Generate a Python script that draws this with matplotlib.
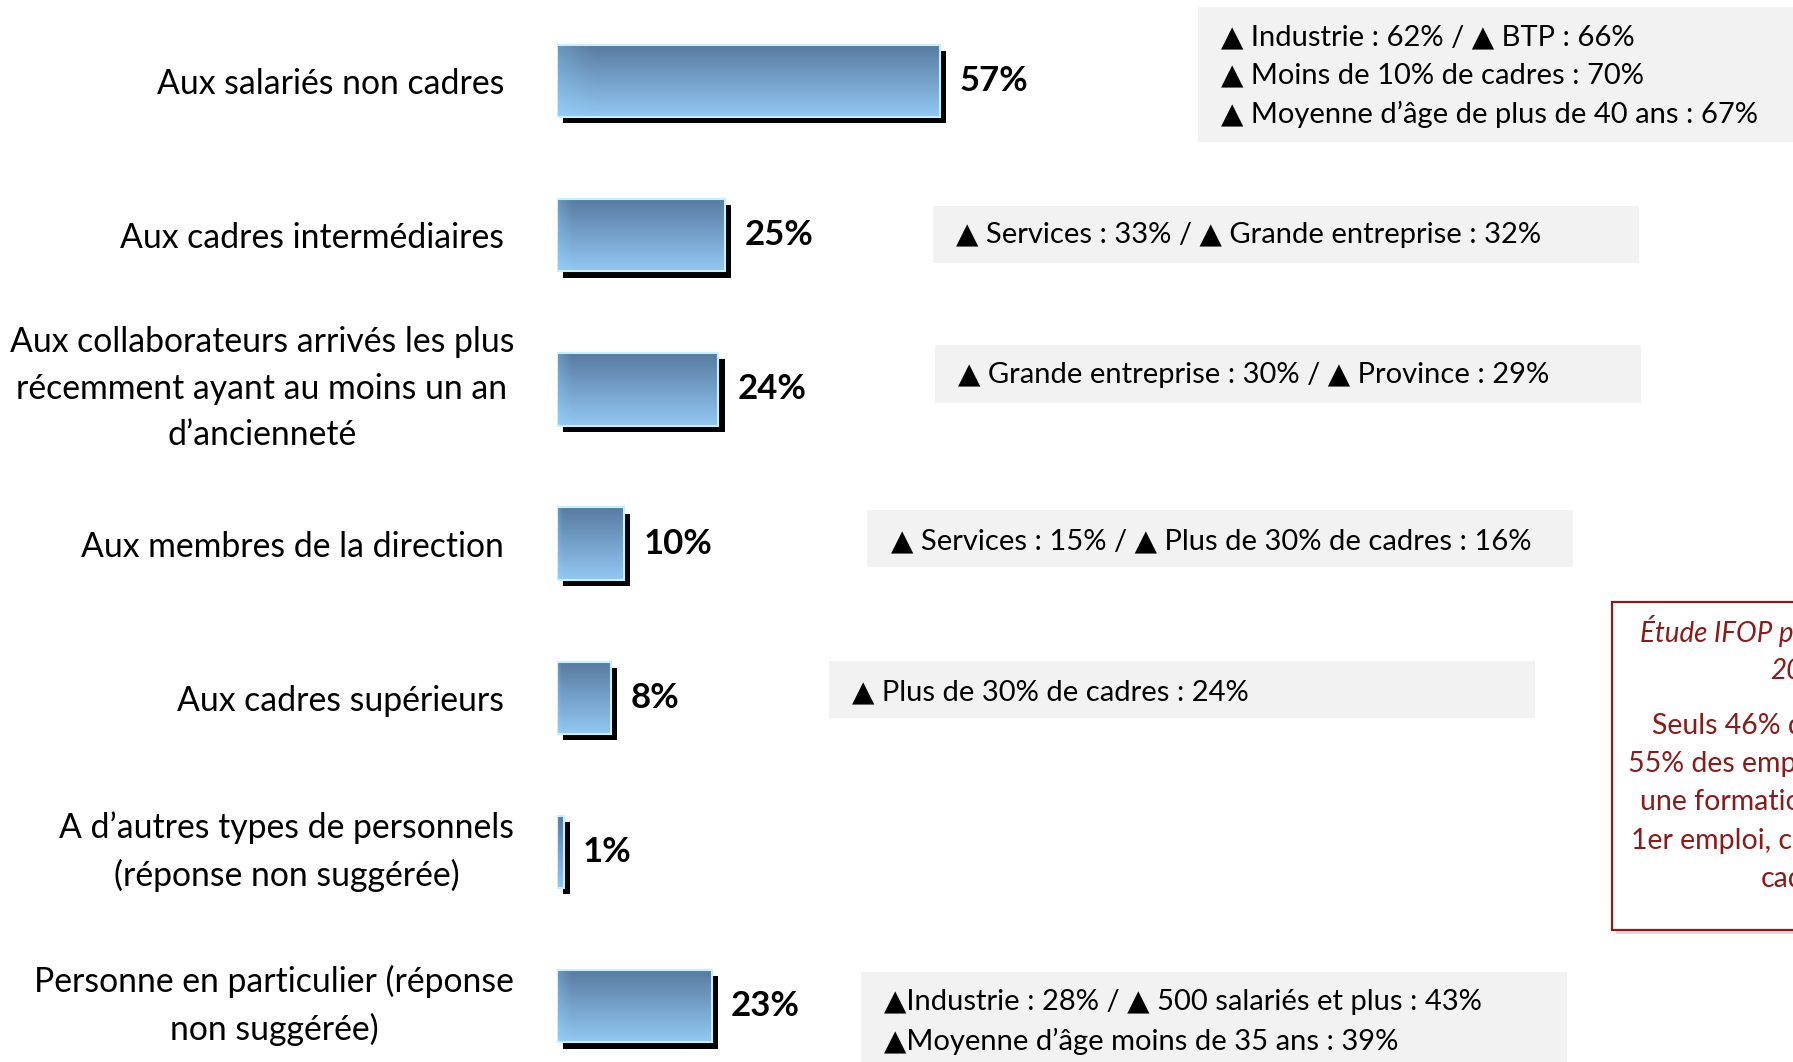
import numpy as np
import matplotlib
matplotlib.use("Agg")
import matplotlib.pyplot as plt
from matplotlib.patches import Rectangle
from matplotlib import patheffects as pe
from matplotlib.colors import to_rgb
from matplotlib.transforms import ScaledTranslation

plt.rcParams['font.family'] = ['Lato', 'DejaVu Sans']

# ---- data ----
categories = [
    "Aux salariés non cadres",
    "Aux cadres intermédiaires",
    "Aux collaborateurs arrivés les plus\nrécemment ayant au moins un an\nd’ancienneté",
    "Aux membres de la direction",
    "Aux cadres supérieurs",
    "A d’autres types de personnels\n(réponse non suggérée)",
    "Personne en particulier (réponse\nnon suggérée)",
]
values = [57, 25, 24, 10, 8, 1, 23]
notes = [
    ["▲ Industrie : 62% / ▲ BTP : 66%",
     "▲ Moins de 10% de cadres : 70%",
     "▲ Moyenne d’âge de plus de 40 ans : 67%"],
    ["▲ Services : 33% / ▲ Grande entreprise : 32%"],
    ["▲ Grande entreprise : 30% / ▲ Province : 29%"],
    ["▲ Services : 15% / ▲ Plus de 30% de cadres : 16%"],
    ["▲ Plus de 30% de cadres : 24%"],
    [],
    ["▲Industrie : 28% / ▲ 500 salariés et plus : 43%",
     "▲Moyenne d’âge moins de 35 ans : 39%"],
]
side_title = ["Étude IFOP pour Cegos, juin", "2012"]
side_body = ["Seuls 46% des cadres et", "55% des employés ont suivi",
             "une formation lors de leur", "1er emploi, contre 62% des", "cadres"]

# ---- layout (pixels) ----
W, H = 1793, 1062
fig = plt.figure(figsize=(W / 100, H / 100), dpi=100)
fig.patch.set_facecolor("white")

def fx(x):
    return x / W

def fy(y):
    return 1 - y / H

row0, step = 81, 154.2
n = len(categories)
top_px = row0 - step / 2
bot_px = row0 + step * (n - 1) + step / 2
ax = fig.add_axes([fx(557), fy(bot_px), 672 / W, (bot_px - top_px) / H])
ax.set_xlim(0, 100)
ax.set_ylim(n - 0.5, -0.5)
for s in ax.spines.values():
    s.set_visible(False)
ax.set_xticks([])
ax.set_facecolor("none")

ypos = np.arange(n)
bh = 0.47
bars = ax.barh(ypos, values, height=bh, color="#7aa9d6", edgecolor="none", zorder=2)
for b in bars:
    b.set_path_effects([pe.SimplePatchShadow(offset=(4.5, -4.5), shadow_rgbFace="black", alpha=1.0),
                        pe.Normal()])

# gradient fill
top_c = np.array(to_rgb("#587a9f"))
bot_c = np.array(to_rgb("#92c8f4"))
rows = 64
t = np.linspace(0, 1, rows)[:, None, None]
grad = top_c * (1 - t) + bot_c * t
grad = np.repeat(grad, 40, axis=1)
edge = np.linspace(0, 1, 40)
hl = np.clip(1 - edge * 12, 0, 1)[None, :, None] * 0.25
grad = np.clip(grad + hl * (np.array([0.6, 0.85, 1.0]) - grad), 0, 1)
for b, v, y in zip(bars, values, ypos):
    im = ax.imshow(grad, extent=(0, v, y + bh / 2, y - bh / 2), origin="upper",
                   aspect="auto", zorder=3, interpolation="bilinear")
    im.set_clip_path(b)
ax.barh(ypos, values, height=bh, fill=False, edgecolor="#c4f0ff", linewidth=1.5, zorder=4)
ax.set_xlim(0, 100)
ax.set_ylim(n - 0.5, -0.5)

for v, y in zip(values, ypos):
    ax.annotate(f"{v}%", (v, y), xytext=(14, 0), textcoords="offset points",
                ha="left", va="center", fontsize=25, fontweight="bold", color="black", zorder=5)

ax.set_yticks(ypos)
ax.set_yticklabels(categories, fontsize=24.3, color="black")
ax.tick_params(axis="y", length=0, pad=38)
for lab in ax.get_yticklabels():
    lab.set_multialignment("center")
    lab.set_linespacing(1.55)
    if "\n" in lab.get_text():
        lab.set_transform(lab.get_transform() +
                          ScaledTranslation(0.10, 0.11, fig.dpi_scale_trans))

# ---- note boxes (x0, x1, y0, y1, text_left, line ys) ----
boxes = [
    (1198, 1800, 7, 142, 1221, [37, 75, 114]),
    (933, 1639, 206, 263, 956, [235]),
    (935, 1641, 345, 403, 958, [375]),
    (867, 1573, 510, 567, 891, [541]),
    (829, 1535, 661, 718, 852, [692]),
    None,
    (861, 1567, 972, 1065, 884, [1002, 1041]),
]
for box, lines in zip(boxes, notes):
    if box is None:
        continue
    x0, x1, y0, y1, tx, lys = box
    fig.add_artist(Rectangle((fx(x0), fy(y1)), (x1 - x0) / W, (y1 - y0) / H,
                             transform=fig.transFigure, facecolor="#f2f2f2",
                             edgecolor="none", zorder=0))
    for line, ly in zip(lines, lys):
        fig.text(fx(tx), fy(ly), line, fontsize=21, ha="left", va="center", color="black")

# ---- side box ----
red = "#8b1a1a"
fig.add_artist(Rectangle((fx(1616), fy(934)), 400 / W, 328 / H, transform=fig.transFigure,
                         facecolor="#d9d9d9", edgecolor="none", zorder=0))
fig.add_artist(Rectangle((fx(1612), fy(930)), 400 / W, 328 / H, transform=fig.transFigure,
                         facecolor="white", edgecolor=red, linewidth=1.6, zorder=1))
cx = 1802
for line, ly in zip(side_title, [631, 671]):
    fig.text(fx(cx), fy(ly), line, fontsize=20, style="italic", ha="center", va="center",
             color=red, zorder=2)
for line, ly in zip(side_body, [726, 764, 802, 841, 879]):
    fig.text(fx(cx), fy(ly), line, fontsize=20.5, ha="center", va="center", color=red, zorder=2)

fig.savefig("out.png", dpi=100)
